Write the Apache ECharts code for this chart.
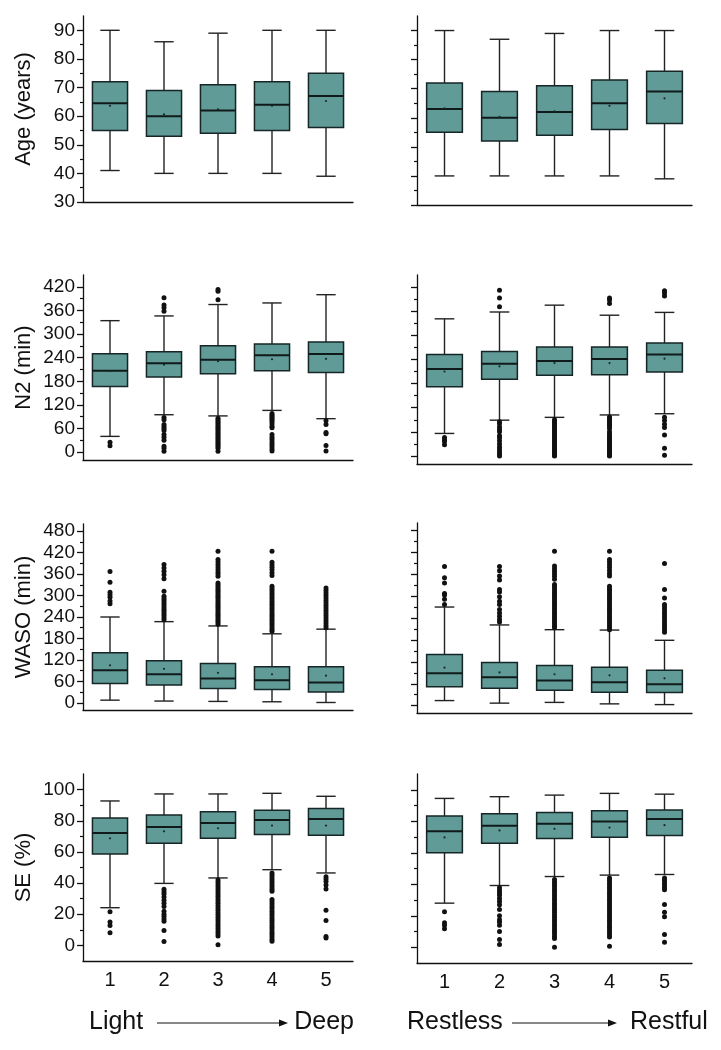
<!DOCTYPE html>
<html>
<head>
<meta charset="utf-8">
<script src="https://cdn.jsdelivr.net/npm/echarts@6/dist/echarts.min.js"></script>
<style>
html,body{margin:0;padding:0;background:#fff;}
#chart{width:721px;height:1050px;}
</style>
</head>
<body>
<div id="chart"></div>
<script>
// ---------- DATA ----------
const CATEGORIES = ['1', '2', '3', '4', '5'];

// Box stats per category: [low whisker, Q1, median, Q3, high whisker, mean]
const AGE_L_BOX = [[41,55,64.5,72,90,63.6],[40,53,60,69,86,60.6],[40,54,62,71,89,62.4],[40,55,64,72,90,63.6],[39,56,67,75,90,65.3]];
const AGE_R_BOX = [[40,55,63,72,90,63.2],[40,52,60,69,87,60.3],[40,54,62,71,89,62.2],[40,56,65,73,90,64.1],[39,58,69,76,90,66.7]];
const AGE_L_OUT = [[],[],[],[],[]];
const AGE_R_OUT = [[],[],[],[],[]];

const N2_L_BOX = [[40,167,207,250,334,206],[95,191,226,255,346,222],[92,199,235,270,375,231],[106,207,246,275,379,236],[85,202,249,280,400,237]];
const N2_L_OUT = [
  [25,16],
  [392,374,367,358,88,82,70,65,60,55,45,38,30,15,10,2],
  [413,409,387,86,82,78,74,70,66,62,58,54,50,46,42,38,34,30,26,22,18,14,10,2],
  [98,94,90,86,82,78,72,66,62,45,38,32,26,20,14,8,3],
  [80,70,50,47,17,3]
];
const N2_R_BOX = [[56,172,216,252,341,210],[89,191,229,260,358,223],[96,201,236,271,375,231],[102,202,241,271,350,231],[105,209,252,281,357,242]];
const N2_R_OUT = [
  [46,40,36,28],
  [412,393,371,85,80,72,66,60,50,45,38,30,22,16,10,4,0],
  [90,86,82,78,74,70,66,62,58,54,50,46,42,38,34,30,26,22,18,14,10,6,2,0],
  [393,388,379,97,93,89,85,81,77,73,68,60,55,50,46,42,38,34,30,26,22,18,14,10,6,2,0],
  [411,405,398,96,88,79,71,52,19,2]
];

const WASO_L_BOX = [[7.5,54,91,140,240,105],[5,50,80,118,227,95],[4,40,68,110,215,84],[3,37,63,101,193,80],[1,30,57,101,206,76]];
const WASO_L_OUT = [
  [367,337,309,302,295,285,277],
  [387,377,368,358,347,312,298,292,286,280,274,268,262,256,250,244,238,232],
  [424,401,394,387,380,373,366,360,354,335,330,325,320,315,310,305,300,295,290,285,280,275,270,265,260,255,250,245,240,235,230,225,220],
  [424,393,386,379,372,364,356,326,320,314,308,302,296,290,284,278,272,266,260,254,248,242,236,230,224,218,212,206,200],
  [321,314,307,300,293,286,279,272,265,258,251,244,237,230,223,216,210]
];
const WASO_R_BOX = [[14,52,89,140,270,104],[7,48,78,118,221,91],[9,42,69,110,208,86],[5,37,64,105,207,83],[3,36,59,97,179,75]];
const WASO_R_OUT = [
  [381,350,336,307,303,291,277],
  [381,369,355,344,318,311,298,286,277,263,254,245,236,229],
  [423,382,375,368,361,354,346,332,326,320,314,308,302,296,290,284,278,272,266,260,254,248,242,236,230,224,218,213],
  [423,400,393,386,378,370,362,355,327,321,315,309,303,297,291,285,279,273,267,261,255,249,243,237,231,225,219,213,208],
  [389,318,295,277,270,263,256,249,242,235,228,221,214,207,201]
];

const SE_L_BOX = [[24.2,58.7,72.2,81.8,92.7,68.7],[39.8,65.5,76,83.7,97.2,73.2],[43.3,68.7,78.6,85.7,97.2,75.2],[48.6,71.1,80.5,86.7,97.6,76.9],[46.5,70.7,81.2,87.8,95.7,76.9]];
const SE_L_OUT = [
  [21.6,15,12.8,8.1],
  [36,34.5,33,31,29,27,25,22,20,18.5,17,15.5,9.5,2.5],
  [42,40.5,39,37.5,36,34.5,33,31.5,30,28.5,27,25.5,24,22.5,21,19.5,18,16.5,15,13.5,12,10.5,9,7.5,6,0.5],
  [46.5,45,43.5,42,40.5,39,37.5,36,34.7,29.4,28,26.5,25,23.5,22,20.5,19,17.5,16,14.5,13,11.5,10,8.5,7,5.5,4,2.6],
  [44,42.6,41,38.8,36.2,22.5,16,5.8,4.7]
];
const SE_R_BOX = [[28,60,73.7,83.3,94.5,69.7],[39.2,66.1,77.1,84.7,95.6,74.2],[44.9,69.1,78.4,85.6,96.6,75.2],[45.8,69.9,79.9,86.7,97.7,76],[46.2,71,81.4,87.1,97.2,77.5]];
const SE_R_OUT = [
  [22.5,15.5,14,11.7],
  [37.7,36,34.5,33,31,29,27,24,20,17.5,16,14,10,5,1.7],
  [43,41.5,40,38.5,37,35.5,34,32.5,31,29.5,28,26.5,25,23.5,22,20.5,19,17.5,16,14.5,13,11.5,10,8.5,7,5.5,0],
  [44,42.5,41,39.5,38,36.5,35,33.5,32,30.5,29,27.5,26,24.5,23,21.5,20,18.5,17,15.5,14,12.5,11,9.5,8,6.5,0.6],
  [44,42.6,41,39.5,38,36.5,27.2,22.3,19.4,8.1,3.2]
];

// Axis tick labels
const AGE_TICKS = [30,40,50,60,70,80,90];
const AGE_MINOR = [35,45,55,65,75,85];
const N2_TICKS = [0,60,120,180,240,300,360,420];
const N2_MINOR = [30,90,150,210,270,330,390];
const WASO_TICKS = [0,60,120,180,240,300,360,420,480];
const WASO_MINOR = [30,90,150,210,270,330,390,450];
const SE_TICKS = [0,20,40,60,80,100];
const SE_MINOR = [10,30,50,70,90];

const Y_NAMES = ['Age (years)', 'N2 (min)', 'WASO (min)', 'SE (%)'];
const Y_RANGES = [[30,95],[-20,450],[-20,500],[-10,110]];
const X_CAPTIONS = [['Light', 'Deep'], ['Restless', 'Restful']];

// ---------- LAYOUT ----------
const ROWS = [
  {ticks: AGE_TICKS, minor: AGE_MINOR, box: [AGE_L_BOX, AGE_R_BOX], out: [AGE_L_OUT, AGE_R_OUT]},
  {ticks: N2_TICKS, minor: N2_MINOR, box: [N2_L_BOX, N2_R_BOX], out: [N2_L_OUT, N2_R_OUT]},
  {ticks: WASO_TICKS, minor: WASO_MINOR, box: [WASO_L_BOX, WASO_R_BOX], out: [WASO_L_OUT, WASO_R_OUT]},
  {ticks: SE_TICKS, minor: SE_MINOR, box: [SE_L_BOX, SE_R_BOX], out: [SE_L_OUT, SE_R_OUT]}
];
const GRID_POS = [
  [{left:83,top:16,width:270,height:186},{left:417,top:16,width:275,height:189}],
  [{left:83,top:275,width:270,height:185},{left:417,top:275,width:275,height:189}],
  [{left:83,top:524,width:270,height:186},{left:417,top:523,width:275,height:190}],
  [{left:83,top:774,width:270,height:187},{left:417,top:774,width:275,height:189}]
];

const FONT = '"Liberation Sans", Arial, sans-serif';
const AXIS_COLOR = '#111';
const FILL = '#609b98';

const grid = [], xAxis = [], yAxis = [], series = [];

function renderBox(params, api) {
  const x = api.value(0);
  const low = api.coord([x, api.value(1)]);
  const q1 = api.coord([x, api.value(2)]);
  const med = api.coord([x, api.value(3)]);
  const q3 = api.coord([x, api.value(4)]);
  const high = api.coord([x, api.value(5)]);
  const mean = api.coord([x, api.value(6)]);
  const band = api.size([1, 0])[0];
  const bw = band * 0.65;
  const cw = bw * 0.55;
  const cx = low[0];
  const lineStyle = {stroke: '#222', lineWidth: 1.4};
  return {
    type: 'group',
    children: [
      {type: 'line', shape: {x1: cx, y1: high[1], x2: cx, y2: q3[1]}, style: lineStyle},
      {type: 'line', shape: {x1: cx, y1: q1[1], x2: cx, y2: low[1]}, style: lineStyle},
      {type: 'line', shape: {x1: cx - cw/2, y1: high[1], x2: cx + cw/2, y2: high[1]}, style: lineStyle},
      {type: 'line', shape: {x1: cx - cw/2, y1: low[1], x2: cx + cw/2, y2: low[1]}, style: lineStyle},
      {type: 'rect', shape: {x: cx - bw/2, y: q3[1], width: bw, height: q1[1] - q3[1]},
        style: {fill: FILL, stroke: '#162525', lineWidth: 1.5}},
      {type: 'line', shape: {x1: cx - bw/2, y1: med[1], x2: cx + bw/2, y2: med[1]},
        style: {stroke: '#101a1a', lineWidth: 2}},
      {type: 'circle', shape: {cx: cx, cy: mean[1], r: 1.1}, style: {fill: '#1a2a2a'}}
    ]
  };
}

ROWS.forEach((row, r) => {
  [0, 1].forEach(s => {
    const gi = r * 2 + s;
    grid.push(Object.assign({containLabel: false}, GRID_POS[r][s]));
    xAxis.push({
      type: 'category', gridIndex: gi, data: CATEGORIES, boundaryGap: true, position: 'bottom',
      axisLine: {onZero: false, lineStyle: {color: AXIS_COLOR, width: 1.3}},
      axisTick: {alignWithLabel: true, length: 5, lineStyle: {color: AXIS_COLOR, width: 1.3}},
      axisLabel: {show: r === 3, fontSize: 20, margin: 9, color: '#111', fontFamily: FONT},
      splitLine: {show: false}
    });
    yAxis.push({
      type: 'value', gridIndex: gi, position: 'left', min: Y_RANGES[r][0], max: Y_RANGES[r][1],
      axisLine: {show: true, onZero: false, lineStyle: {color: AXIS_COLOR, width: 1.3}},
      axisTick: {show: true, customValues: row.ticks, length: 6, lineStyle: {color: AXIS_COLOR, width: 1.3}},
      axisLabel: {show: s === 0, customValues: row.ticks, fontSize: 19, margin: 8, color: '#111', fontFamily: FONT},
      splitLine: {show: false},
      name: s === 0 ? Y_NAMES[r] : '',
      nameLocation: 'middle', nameGap: 48,
      nameTextStyle: {fontSize: 22, color: '#111', fontFamily: FONT}
    });
    yAxis.push({
      type: 'value', gridIndex: gi, position: 'left', offset: 0, min: Y_RANGES[r][0], max: Y_RANGES[r][1],
      axisLine: {show: false, onZero: false},
      axisTick: {show: true, customValues: row.minor, length: 3, lineStyle: {color: AXIS_COLOR, width: 1.2}},
      axisLabel: {show: false},
      splitLine: {show: false}
    });
    series.push({
      type: 'custom', xAxisIndex: gi, yAxisIndex: gi * 2,
      renderItem: renderBox,
      encode: {x: 0, y: [1, 2, 3, 4, 5, 6]},
      data: row.box[s].map((b, i) => [i].concat(b)),
      z: 2
    });
    series.push({
      type: 'scatter', xAxisIndex: gi, yAxisIndex: gi * 2,
      symbol: 'circle', symbolSize: 5,
      itemStyle: {color: '#111', opacity: 1},
      data: row.out[s].flatMap((vals, i) => vals.map(v => [i, v])),
      z: 3
    });
  });
});

// Bottom captions with arrows
const CAP_Y = 1025;
const CAP_FONT = '25px ' + FONT;
const graphic = [
  {type: 'text', left: 89, top: CAP_Y - 15, style: {text: X_CAPTIONS[0][0], font: CAP_FONT, fill: '#111'}},
  {type: 'line', shape: {x1: 157, y1: CAP_Y - 2, x2: 281, y2: CAP_Y - 2}, style: {stroke: '#111', lineWidth: 1}},
  {type: 'polygon', shape: {points: [[279, CAP_Y - 5.5], [288, CAP_Y - 2], [279, CAP_Y + 1.5]]}, style: {fill: '#111'}},
  {type: 'text', right: 721 - 354, top: CAP_Y - 15, style: {text: X_CAPTIONS[0][1], font: CAP_FONT, fill: '#111'}},
  {type: 'text', left: 407, top: CAP_Y - 15, style: {text: X_CAPTIONS[1][0], font: CAP_FONT, fill: '#111'}},
  {type: 'line', shape: {x1: 512, y1: CAP_Y - 2, x2: 610, y2: CAP_Y - 2}, style: {stroke: '#111', lineWidth: 1}},
  {type: 'polygon', shape: {points: [[608, CAP_Y - 5.5], [617, CAP_Y - 2], [608, CAP_Y + 1.5]]}, style: {fill: '#111'}},
  {type: 'text', left: 630, top: CAP_Y - 15, style: {text: X_CAPTIONS[1][1], font: CAP_FONT, fill: '#111'}}
];

const chart = echarts.init(document.getElementById('chart'), null, {renderer: 'canvas'});
chart.setOption({
  animation: false,
  backgroundColor: '#fff',
  textStyle: {fontFamily: FONT},
  grid, xAxis, yAxis, series, graphic
});
</script>
</body>
</html>
